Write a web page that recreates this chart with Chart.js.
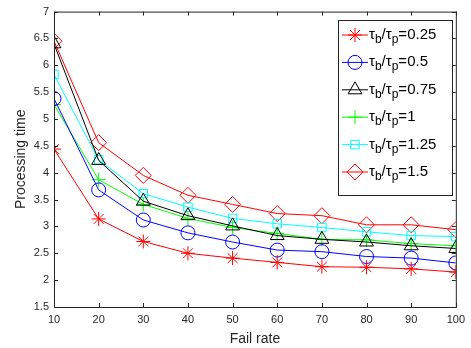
<!DOCTYPE html>
<html>
<head>
<meta charset="utf-8">
<script src="https://cdn.jsdelivr.net/npm/chart.js@4/dist/chart.umd.min.js"></script>
<style>
  html, body { margin: 0; padding: 0; background: #fff; }
  canvas { display: block; }
</style>
</head>
<body>
<canvas id="c" width="471" height="348"></canvas>
<script>
// --- data ---
const failRates = [10, 20, 30, 40, 50, 60, 70, 80, 90, 100];
const ratioLabels = ['0.25', '0.5', '0.75', '1', '1.25', '1.5'];
const r025 = [4.44, 3.14, 2.72, 2.50, 2.41, 2.33, 2.25, 2.24, 2.21, 2.15];
const r05  = [5.38, 3.68, 3.12, 2.88, 2.71, 2.56, 2.53, 2.44, 2.41, 2.32];
const r075 = [6.40, 4.23, 3.47, 3.20, 3.01, 2.83, 2.76, 2.71, 2.64, 2.59];
const r1   = [5.27, 3.87, 3.41, 3.15, 2.98, 2.87, 2.76, 2.75, 2.68, 2.64];
const r125 = [5.83, 4.24, 3.61, 3.36, 3.15, 3.05, 2.98, 2.90, 2.83, 2.81];
const r15  = [6.45, 4.56, 3.95, 3.58, 3.41, 3.24, 3.20, 3.03, 3.03, 2.94];

const seriesValues = [r025, r05, r075, r1, r125, r15];
const colors = ['#ff0000', '#0000ff', '#000000', '#00ff00', '#00ffff', '#ff0000'];
const markers = ['star', 'circle', 'triangle', 'cross', 'rect', 'rectRot'];
const markerSize = [7, 7, 8, 7, 6, 8];

const axisColor = '#262626';
const font = 'Arial, "Liberation Sans", Helvetica, sans-serif';

const datasets = seriesValues.map((vals, i) => ({
  label: ratioLabels[i],
  data: vals.map((v, j) => ({ x: failRates[j], y: v })),
  borderColor: colors[i],
  backgroundColor: 'rgba(0,0,0,0)',
  pointBorderColor: colors[i],
  pointBackgroundColor: 'rgba(0,0,0,0)',
  pointStyle: markers[i],
  pointRadius: markerSize[i],
  pointBorderWidth: 1,
  borderWidth: 1,
  tension: 0
}));

// box + inward ticks like matlab
const framePlugin = {
  id: 'frame',
  afterDraw(chart) {
    const { ctx, chartArea: a, scales } = chart;
    ctx.save();
    ctx.strokeStyle = axisColor;
    ctx.lineWidth = 1;
    ctx.strokeRect(a.left + 0.5, a.top + 0.5, a.right - a.left, a.bottom - a.top);
    ctx.beginPath();
    scales.x.ticks.forEach(t => {
      const x = Math.round(scales.x.getPixelForValue(t.value)) + 0.5;
      ctx.moveTo(x, a.bottom); ctx.lineTo(x, a.bottom - 4);
      ctx.moveTo(x, a.top); ctx.lineTo(x, a.top + 4);
    });
    scales.y.ticks.forEach(t => {
      const y = Math.round(scales.y.getPixelForValue(t.value)) + 0.5;
      ctx.moveTo(a.left, y); ctx.lineTo(a.left + 4, y);
      ctx.moveTo(a.right, y); ctx.lineTo(a.right - 4, y);
    });
    ctx.stroke();
    ctx.restore();
  }
};

// legend with subscripts, drawn by hand
const legendPlugin = {
  id: 'subLegend',
  afterDraw(chart) {
    const ctx = chart.ctx;
    const bx = 338, by = 20, bw = 114, bh = 175;
    ctx.save();
    ctx.fillStyle = '#fff';
    ctx.fillRect(bx, by, bw, bh);
    ctx.strokeStyle = axisColor;
    ctx.lineWidth = 1;
    ctx.strokeRect(bx + 0.5, by + 0.5, bw, bh);
    chart.data.datasets.forEach((ds, i) => {
      const y = 35 + i * 27.4;
      ctx.strokeStyle = ds.borderColor;
      ctx.lineWidth = 1;
      ctx.beginPath();
      ctx.moveTo(342, y); ctx.lineTo(368, y);
      ctx.stroke();
      ctx.fillStyle = 'rgba(0,0,0,0)';
      Chart.helpers.drawPoint(ctx, {
        pointStyle: ds.pointStyle, radius: ds.pointRadius, rotation: 0, borderWidth: 1
      }, 355, y);
      ctx.fillStyle = '#000';
      ctx.textBaseline = 'alphabetic';
      ctx.textAlign = 'left';
      let x = 369;
      const big = '15px ' + font, small = '12px ' + font;
      const put = (s, f, dy) => { ctx.font = f; ctx.fillText(s, x, y + dy); x += ctx.measureText(s).width; };
      put('\u03C4', big, 4);
      put('b', small, 8);
      put('/', big, 4);
      put('\u03C4', big, 4);
      put('p', small, 8);
      put('=' + ds.label, big, 4);
    });
    ctx.restore();
  }
};

new Chart(document.getElementById('c'), {
  type: 'line',
  data: { datasets },
  options: {
    responsive: false,
    animation: false,
    layout: { padding: { left: 0, top: 9, right: 7, bottom: 0 } },
    plugins: { legend: { display: false }, tooltip: { enabled: false } },
    scales: {
      x: {
        type: 'linear', min: 10, max: 100,
        ticks: { stepSize: 10, color: axisColor, font: { family: font, size: 11 }, padding: 6, maxRotation: 0 },
        grid: { display: false, drawTicks: false },
        border: { display: false },
        title: { display: true, text: 'Fail rate', color: axisColor, font: { family: font, size: 14 }, padding: { top: 0, bottom: 0 } },
        afterFit(s) { s.height = 41; }
      },
      y: {
        min: 1.5, max: 7,
        ticks: {
          stepSize: 0.5, color: axisColor, font: { family: font, size: 11 }, padding: 5,
          callback: v => String(+v.toFixed(2))
        },
        grid: { display: false, drawTicks: false },
        border: { display: false },
        title: { display: true, text: 'Processing time', color: axisColor, font: { family: font, size: 14 }, padding: { top: 13, bottom: 0 } },
        afterFit(s) { s.width = 54; }
      }
    }
  },
  plugins: [framePlugin, legendPlugin]
});
</script>
</body>
</html>
